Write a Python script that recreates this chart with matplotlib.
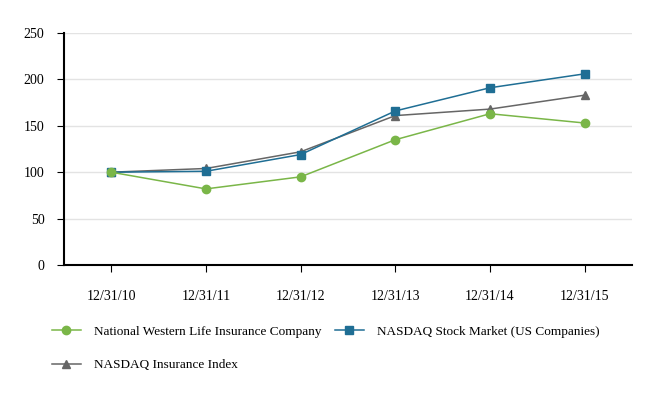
import numpy as np
import matplotlib.pyplot as plt

plt.rcParams['font.family'] = ['Liberation Serif', 'DejaVu Serif']

dates = ['12/31/10', '12/31/11', '12/31/12', '12/31/13', '12/31/14', '12/31/15']
nwl = [100, 82, 95, 135, 163, 153]
nasdaq = [100, 101, 119, 166, 191, 206]
insurance = [100, 104, 122, 161, 168, 183]

fig = plt.figure(figsize=(6.66, 4.0), dpi=100)
ax = fig.add_axes([0.096, 0.3375, 0.853, 0.58])

x = np.arange(len(dates))
ax.plot(x, insurance, color='#666666', marker='^', markersize=6, linewidth=1.1,
        label='NASDAQ Insurance Index', zorder=3)
ax.plot(x, nasdaq, color='#1f6e94', marker='s', markersize=6, linewidth=1.1,
        label='NASDAQ Stock Market (US Companies)', zorder=4)
ax.plot(x, nwl, color='#7ab648', marker='o', markersize=6, linewidth=1.1,
        label='National Western Life Insurance Company', zorder=5)

ax.set_xlim(-0.5, 5.5)
ax.set_ylim(0, 250)
ax.set_yticks(range(0, 251, 50))
ax.set_xticks(x)
ax.set_xticklabels(dates)
ax.yaxis.grid(True, color='#e3e3e3', linewidth=1)
ax.set_axisbelow(True)
for s in ['top', 'right']:
    ax.spines[s].set_visible(False)
for s in ['left', 'bottom']:
    ax.spines[s].set_linewidth(1.5)
ax.tick_params(axis='y', length=5, pad=9, labelsize=10)
ax.tick_params(axis='x', length=5, pad=13, labelsize=10)

# column-major fill: NWL, Insurance | NASDAQ
h, l = ax.get_legend_handles_labels()
order = [2, 0, 1]
fig.legend([h[i] for i in order], [l[i] for i in order], ncol=2, frameon=False,
           loc='upper left', bbox_to_anchor=(0.06, 0.215), fontsize=9.5,
           handlelength=2.2, labelspacing=1.6, columnspacing=1.0, handletextpad=1.0)

fig.savefig('out.png', dpi=100)
